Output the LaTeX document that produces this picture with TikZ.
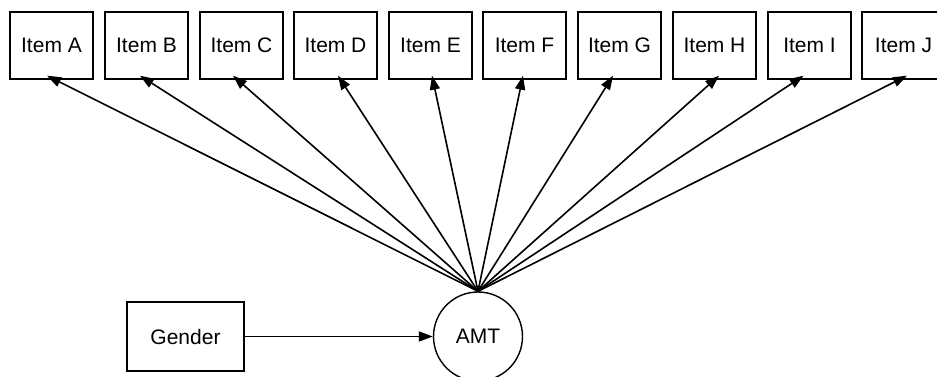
\documentclass[tikz,border=0pt]{standalone}
\usepackage{fontspec}
\setmainfont{Liberation Sans}
\usetikzlibrary{arrows.meta}
\begin{document}
\begin{tikzpicture}[x=1pt,y=-1pt,
  itembox/.style={draw, line width=1.4pt, minimum width=83pt, minimum height=67pt, inner sep=0pt, font=\fontsize{21}{25}\selectfont},
  latent/.style={draw, circle, line width=1.4pt, minimum size=89pt, inner sep=0pt, font=\fontsize{21}{25}\selectfont},
  conn/.style={line width=1.6pt, -{Triangle[length=14pt,width=10pt]}}]
\useasboundingbox (0,0) rectangle (937,377);
\foreach \n/\x in {A/10,B/105,C/200,D/294,E/389,F/483,G/578,H/673,I/768,J/862}{
  \node[itembox] (\n) at (\x+41.5,45.5) {Item \n};
}
\node[itembox, minimum width=117pt, minimum height=69pt] (gender) at (185.5,336.5) {Gender};
\node[latent] (amt) at (478,336.5) {AMT};
\foreach \n/\d in {A/-4.5,B/-6.5,C/-8.5,D/2.5,E/1.5,F/-1.5,G/-6.5,H/4.5,I/-6,J/3.5}{
  \coordinate (t\n) at ([xshift=\d pt, yshift=4pt]\n.south);
  \draw[conn] (amt.north) -- (t\n);
}
\draw[conn] (gender.east) -- (amt.west);
\end{tikzpicture}
\end{document}
